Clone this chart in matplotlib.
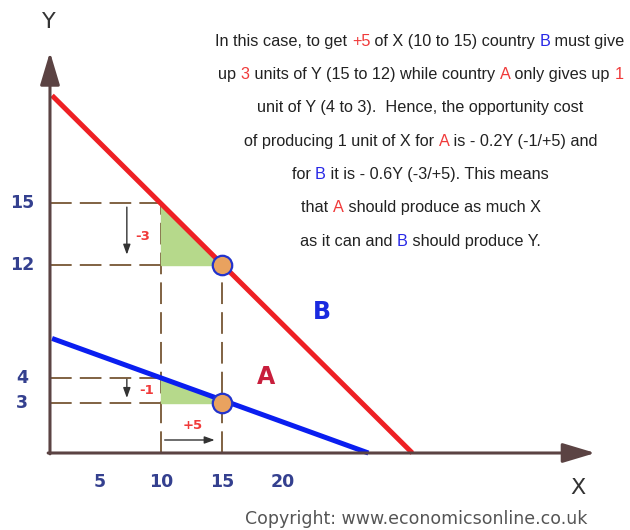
import numpy as np
import matplotlib
matplotlib.use('Agg')
import matplotlib.pyplot as plt
from matplotlib import font_manager

# ---- data ----
x_ticks = [5, 10, 15, 20]
y_ticks = [3, 4, 12, 15]

line_b_x = [1.07, 30.6]
line_b_y = [20.2, 0]
line_a_x = [1.07, 27.0]
line_a_y = [6.8, 0]

points_x = [15, 15]
points_y = [12, 3]

# change from X=10 to X=15
x_from, x_to = 10, 15
b_from, b_to = 15, 12
a_from, a_to = 4, 3

# ---- colours ----
axis_col = '#5b4343'
dash_col = '#765634'
tick_col = '#34408f'
red = '#ee2024'
blue = '#0a1ef0'
txt_red = '#f03a3a'
txt_blue = '#2828e6'

# schematic (non-linear) Y axis, as in the original drawing
y_knots = [-100, 0, 3, 4, 12, 15, 100]
h_knots = [-1667, 0, 50, 75, 188, 250, 250 + 85 * 20.67]

def fwd(y):
    return np.interp(y, y_knots, h_knots)

def inv(h):
    return np.interp(h, h_knots, y_knots)

fig = plt.figure(figsize=(6.3, 5.3), dpi=100)
ax = fig.add_axes([0, 0, 1, 1])
ax.set_yscale('function', functions=(fwd, inv))
ax.set_xlim(-39 / 12.2, (630 - 39) / 12.2)
ax.set_ylim(inv(-77), inv(453))
ax.axis('off')

# dashed guide lines
dash = dict(color=dash_col, lw=1.3, dashes=(12, 4.5), zorder=1)
ax.plot([0.9, x_from], [b_from, b_from], **dash)
ax.plot([0.9, x_to], [b_to, b_to], **dash)
ax.plot([0.9, x_from], [a_from, a_from], **dash)
ax.plot([0.9, x_to], [a_to, a_to], **dash)
ax.plot([x_from, x_from], [0, b_from], **dash)
ax.plot([x_to, x_to], [0, b_to], **dash)

# green triangles
ax.fill([x_from, x_from, x_to], [b_from, b_to, b_to], color='#b6d98b', zorder=2)
ax.fill([x_from, x_from, x_to], [a_from, a_to, a_to], color='#b6d98b', zorder=2)

# production possibility lines
ax.plot(line_b_x, line_b_y, color=red, lw=3.6, solid_capstyle='butt', zorder=3)
ax.plot(line_a_x, line_a_y, color=blue, lw=3.6, solid_capstyle='butt', zorder=3)
ax.plot(points_x, points_y, 'o', ms=14, mfc='#e9a25f', mec='#2233cc', mew=1.6, zorder=4)

# axes with arrows
arr = dict(arrowstyle='-|>,head_length=1.0,head_width=0.3', color=axis_col,
           lw=2.2, mutation_scale=20, shrinkA=0, shrinkB=0)
ax.annotate('', xy=(0.9, 22.3), xytext=(0.9, -0.05), arrowprops=arr, zorder=5)
ax.annotate('', xy=(45.6, 0), xytext=(0.75, 0), arrowprops=arr, zorder=5)

# small change arrows
small = dict(arrowstyle='-|>,head_length=0.5,head_width=0.18', color='#333333',
             lw=1.0, mutation_scale=12, shrinkA=0, shrinkB=0)
ax.annotate('', xy=(7.2, 12.5), xytext=(7.2, 14.8), arrowprops=small)
ax.annotate('', xy=(7.2, 3.2), xytext=(7.2, 3.95), arrowprops=small)
ax.annotate('', xy=(14.4, 0.78), xytext=(10.3, 0.78), arrowprops=small)
ax.text(8.5, 13.4, '-3', color=txt_red, fontsize=9.5, fontweight='bold', ha='center', va='center')
ax.text(8.85, 3.52, '-1', color=txt_red, fontsize=9.5, fontweight='bold', ha='center', va='center')
ax.text(12.6, 1.68, '+5', color=txt_red, fontsize=9.5, fontweight='bold', ha='center', va='center')

# country labels
ax.text(23.2, 8.67, 'B', color='#1a2ae0', fontsize=17, fontweight='bold', ha='center', va='center')
ax.text(18.6, 4.07, 'A', color='#c81e3c', fontsize=17, fontweight='bold', ha='center', va='center')

# tick labels
for v in x_ticks:
    ax.text(v, -1.74, str(v), color=tick_col, fontsize=12.5, fontweight='bold', ha='center', va='center')
for v in y_ticks:
    ax.text(-1.39, v, str(v), color=tick_col, fontsize=12.5, fontweight='bold', ha='center', va='center')

ax.text(0.82, 23.75, 'Y', color='#333333', fontsize=16, ha='center', va='center')
ax.text(44.2, -2.1, 'X', color='#333333', fontsize=16, ha='center', va='center')

fig.text(416 / 630, 1 - 519 / 530, 'Copyright: www.economicsonline.co.uk', color='#555555',
         fontsize=12.5, ha='center', va='center')

# explanatory paragraph with coloured words
names = {f.name for f in font_manager.fontManager.ttflist}
para_font = 'Liberation Sans Narrow' if 'Liberation Sans Narrow' in names else 'Liberation Sans'
K = '#222222'
para = [
    [("In this case, to get ", K), ("+5", txt_red), (" of X (10 to 15) country ", K), ("B", txt_blue), (" must give", K)],
    [("up ", K), ("3", txt_red), (" units of Y (15 to 12) while country ", K), ("A", txt_red), (" only gives up ", K), ("1", txt_red)],
    [("unit of Y (4 to 3).  Hence, the opportunity cost", K)],
    [("of producing 1 unit of X for ", K), ("A", txt_red), (" is - 0.2Y (-1/+5) and", K)],
    [("for ", K), ("B", txt_blue), (" it is - 0.6Y (-3/+5). This means", K)],
    [("that ", K), ("A", txt_red), (" should produce as much X", K)],
    [("as it can and ", K), ("B", txt_blue), (" should produce Y.", K)],
]
# baselines of the paragraph lines (pixels from top)
line_y = [46, 79, 112, 146, 179, 212, 246]
renderer = fig.canvas.get_renderer()
psize = 11.7

def width(s):
    t1 = fig.text(0, 0, s + '|', fontsize=psize, family=para_font)
    t2 = fig.text(0, 0, '|', fontsize=psize, family=para_font)
    w = t1.get_window_extent(renderer).width - t2.get_window_extent(renderer).width
    t1.remove()
    t2.remove()
    return w

for segs, py in zip(para, line_y):
    total = width(''.join(s for s, c in segs))
    x0 = 420 - total / 2
    for s, c in segs:
        fig.text(x0 / 630, 1 - py / 530, s, color=c, fontsize=psize, family=para_font,
                 ha='left', va='baseline')
        x0 += width(s)

fig.savefig('out.png', dpi=100)
